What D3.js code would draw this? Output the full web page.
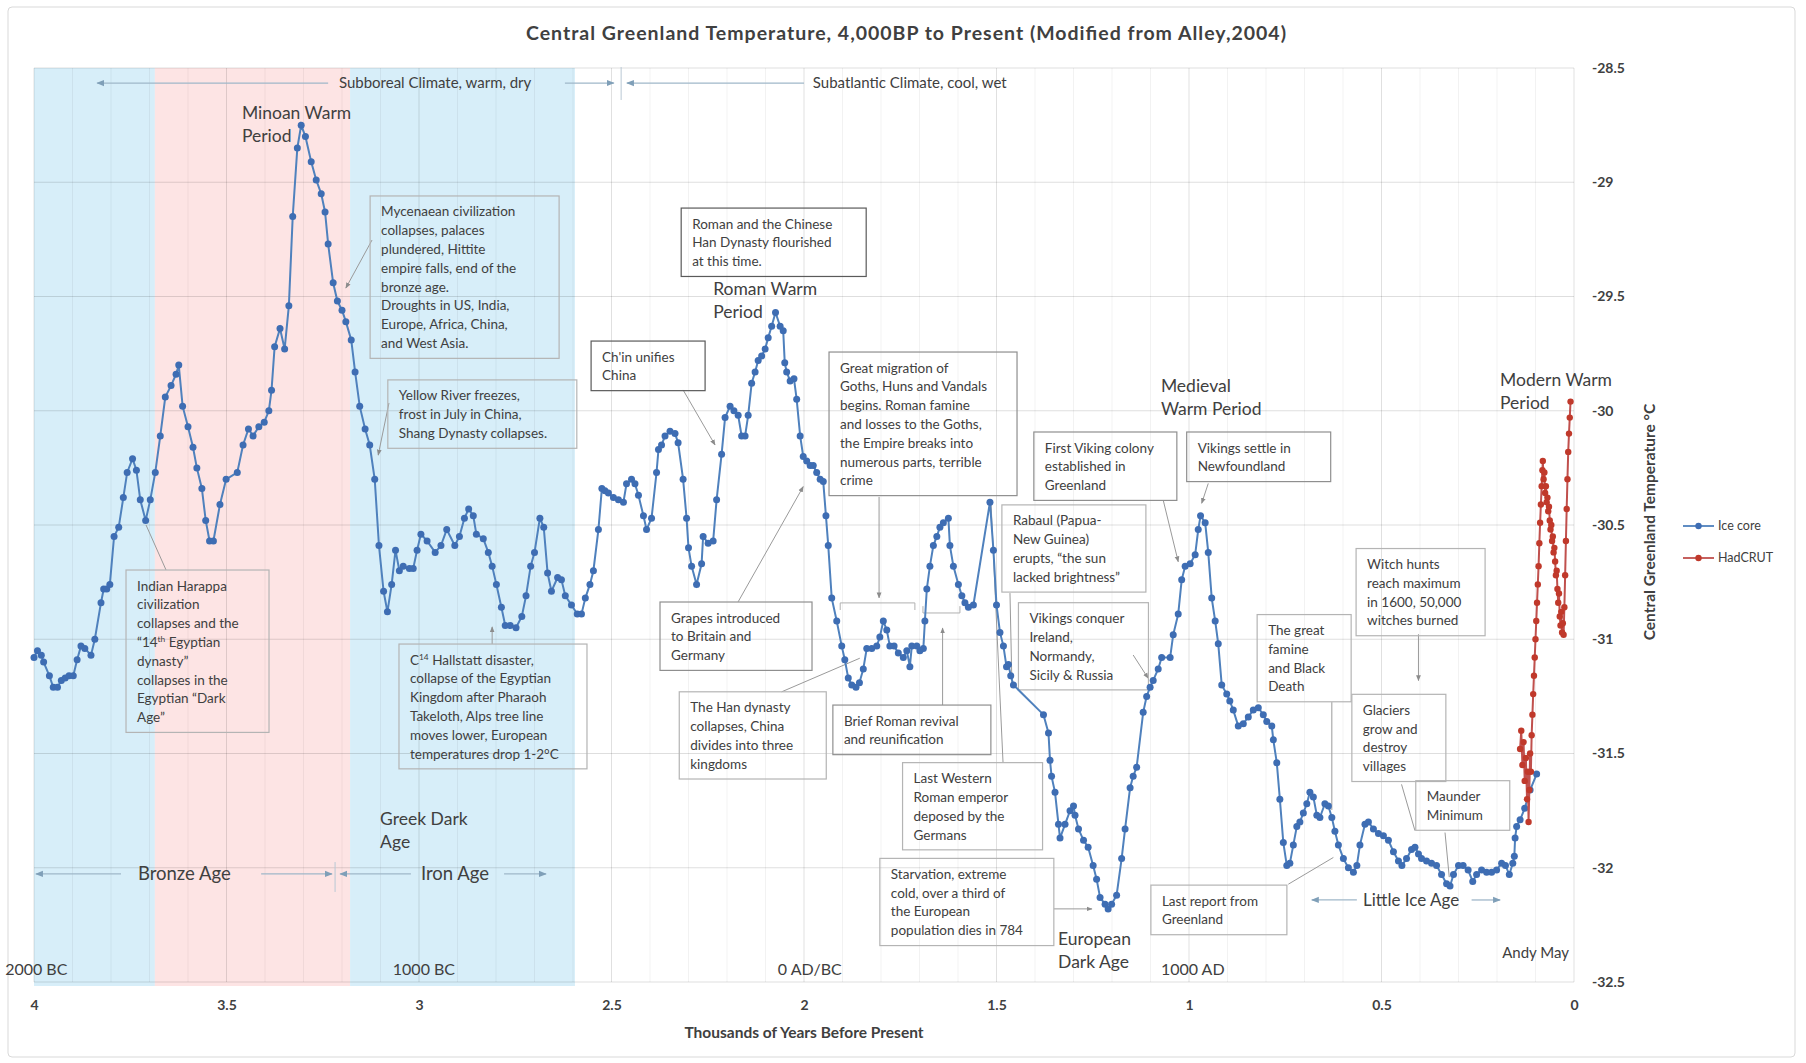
<!DOCTYPE html>
<html><head><meta charset="utf-8">
<script src="https://cdn.jsdelivr.net/npm/d3@7"></script>
<style>
body{margin:0;background:#fff}
svg text{font-family:Lato,"Open Sans",sans-serif}
</style>
</head><body>
<svg id="c" width="1806" height="1063"></svg>
<script>
// ---------------- DATA ----------------
// Ice core: [thousands of years BP, temperature °C]
const iceCore = [
[4.000,-31.08],[3.991,-31.05],[3.981,-31.07],[3.975,-31.10],[3.960,-31.16],[3.950,-31.21],[3.939,-31.21],[3.929,-31.18],[3.919,-31.17],[3.909,-31.16],[3.898,-31.16],[3.888,-31.09],[3.878,-31.03],[3.868,-31.04],[3.852,-31.07],[3.842,-31.00],[3.826,-30.84],[3.819,-30.78],[3.811,-30.78],[3.803,-30.76],[3.792,-30.55],[3.780,-30.51],[3.768,-30.38],[3.758,-30.27],[3.744,-30.21],[3.734,-30.26],[3.724,-30.39],[3.710,-30.48],[3.698,-30.39],[3.685,-30.27],[3.672,-30.11],[3.659,-29.94],[3.644,-29.89],[3.631,-29.84],[3.624,-29.80],[3.614,-29.98],[3.600,-30.07],[3.587,-30.16],[3.577,-30.25],[3.564,-30.34],[3.554,-30.48],[3.544,-30.57],[3.534,-30.57],[3.517,-30.41],[3.501,-30.30],[3.472,-30.27],[3.457,-30.15],[3.443,-30.08],[3.431,-30.11],[3.416,-30.07],[3.402,-30.05],[3.390,-30.00],[3.383,-29.91],[3.375,-29.72],[3.361,-29.64],[3.349,-29.73],[3.338,-29.54],[3.328,-29.15],[3.316,-28.85],[3.306,-28.75],[3.295,-28.80],[3.280,-28.91],[3.267,-28.99],[3.254,-29.05],[3.244,-29.13],[3.236,-29.27],[3.223,-29.44],[3.212,-29.52],[3.200,-29.56],[3.190,-29.61],[3.176,-29.69],[3.166,-29.83],[3.154,-29.98],[3.140,-30.08],[3.128,-30.15],[3.115,-30.30],[3.104,-30.59],[3.092,-30.79],[3.082,-30.88],[3.071,-30.76],[3.061,-30.61],[3.051,-30.70],[3.041,-30.68],[3.025,-30.69],[3.015,-30.69],[3.005,-30.61],[2.995,-30.54],[2.979,-30.57],[2.958,-30.62],[2.943,-30.59],[2.928,-30.52],[2.907,-30.59],[2.895,-30.55],[2.882,-30.47],[2.871,-30.43],[2.859,-30.46],[2.851,-30.54],[2.833,-30.56],[2.820,-30.62],[2.810,-30.68],[2.799,-30.76],[2.786,-30.86],[2.776,-30.94],[2.763,-30.94],[2.748,-30.95],[2.733,-30.90],[2.722,-30.81],[2.710,-30.68],[2.700,-30.62],[2.686,-30.47],[2.676,-30.51],[2.666,-30.71],[2.656,-30.79],[2.640,-30.73],[2.630,-30.74],[2.620,-30.81],[2.604,-30.85],[2.589,-30.89],[2.578,-30.89],[2.568,-30.82],[2.556,-30.76],
[2.547,-30.70],[2.534,-30.52],[2.525,-30.34],[2.517,-30.35],[2.508,-30.36],[2.495,-30.38],[2.482,-30.39],[2.469,-30.40],[2.461,-30.32],[2.448,-30.30],[2.439,-30.32],[2.430,-30.37],[2.417,-30.46],[2.409,-30.52],[2.396,-30.47],[2.383,-30.27],[2.378,-30.17],[2.370,-30.15],[2.361,-30.11],[2.348,-30.09],[2.335,-30.10],[2.327,-30.14],[2.314,-30.30],[2.305,-30.47],[2.300,-30.60],[2.292,-30.68],[2.279,-30.76],[2.266,-30.67],[2.262,-30.55],[2.249,-30.58],[2.236,-30.57],[2.227,-30.39],[2.214,-30.19],[2.205,-30.03],[2.192,-29.98],[2.182,-30.00],[2.171,-30.02],[2.162,-30.11],[2.153,-30.11],[2.145,-30.02],[2.136,-29.88],[2.127,-29.83],[2.119,-29.78],[2.110,-29.76],[2.101,-29.73],[2.093,-29.68],[2.084,-29.63],[2.074,-29.57],[2.062,-29.63],[2.054,-29.65],[2.050,-29.79],[2.045,-29.83],[2.036,-29.87],[2.026,-29.86],[2.019,-29.95],[2.010,-30.11],[2.002,-30.20],[1.993,-30.22],[1.984,-30.24],[1.976,-30.24],[1.967,-30.27],[1.958,-30.30],[1.950,-30.31],[1.943,-30.46],[1.937,-30.59],[1.928,-30.82],[1.915,-30.92],[1.902,-31.03],[1.894,-31.09],[1.885,-31.17],[1.876,-31.20],[1.865,-31.21],[1.856,-31.19],[1.846,-31.13],[1.837,-31.04],[1.824,-31.04],[1.811,-31.03],[1.803,-30.99],[1.794,-30.92],[1.785,-30.96],[1.777,-31.03],[1.766,-31.03],[1.755,-31.06],[1.742,-31.08],[1.733,-31.05],[1.725,-31.12],[1.720,-31.03],[1.707,-31.03],[1.699,-31.05],[1.690,-31.04],[1.686,-30.92],[1.681,-30.78],[1.673,-30.68],[1.664,-30.59],[1.655,-30.55],[1.647,-30.51],[1.638,-30.49],[1.625,-30.47],[1.621,-30.59],[1.612,-30.68],[1.599,-30.76],[1.590,-30.81],[1.582,-30.84],[1.573,-30.86],[1.560,-30.85],[1.517,-30.40],[1.508,-30.61],[1.500,-30.85],[1.491,-30.97],[1.482,-31.03],[1.474,-31.12],
[1.469,-31.11],[1.463,-31.16],[1.456,-31.20],[1.378,-31.33],[1.365,-31.41],[1.361,-31.53],[1.357,-31.60],[1.348,-31.67],[1.339,-31.81],[1.335,-31.87],[1.322,-31.81],[1.309,-31.75],[1.300,-31.73],[1.296,-31.77],[1.287,-31.83],[1.274,-31.88],[1.262,-31.91],[1.249,-31.99],[1.240,-32.05],[1.231,-32.13],[1.218,-32.16],[1.210,-32.18],[1.201,-32.16],[1.188,-32.12],[1.175,-31.96],[1.166,-31.83],[1.153,-31.65],[1.145,-31.60],[1.136,-31.56],[1.119,-31.32],[1.110,-31.25],[1.101,-31.21],[1.093,-31.18],[1.080,-31.13],[1.071,-31.08],[1.049,-31.08],[1.041,-30.98],[1.028,-30.89],[1.019,-30.74],[1.010,-30.68],[0.997,-30.67],[0.984,-30.63],[0.976,-30.52],[0.970,-30.46],[0.958,-30.49],[0.950,-30.62],[0.941,-30.82],[0.932,-30.92],[0.924,-31.02],[0.915,-31.20],[0.902,-31.24],[0.894,-31.27],[0.885,-31.31],[0.872,-31.38],[0.859,-31.37],[0.846,-31.34],[0.833,-31.31],[0.820,-31.30],[0.807,-31.33],[0.798,-31.36],[0.785,-31.38],[0.781,-31.44],[0.772,-31.54],[0.764,-31.70],[0.755,-31.89],[0.746,-31.99],
[0.738,-31.98],[0.729,-31.90],[0.720,-31.82],[0.712,-31.80],[0.703,-31.76],[0.694,-31.72],[0.686,-31.67],[0.677,-31.69],[0.668,-31.77],[0.660,-31.78],[0.647,-31.72],[0.638,-31.73],[0.629,-31.78],[0.621,-31.84],[0.612,-31.90],[0.599,-31.96],[0.586,-32.00],[0.573,-32.02],[0.564,-31.99],[0.556,-31.90],[0.543,-31.81],[0.534,-31.80],[0.521,-31.83],[0.508,-31.85],[0.495,-31.86],[0.482,-31.88],[0.469,-31.93],[0.456,-31.97],[0.447,-31.99],[0.435,-31.96],[0.422,-31.92],[0.413,-31.91],[0.404,-31.94],[0.396,-31.96],[0.383,-31.97],[0.370,-31.98],[0.357,-31.99],[0.344,-32.03],[0.331,-32.07],[0.322,-32.08],[0.313,-32.03],[0.300,-31.99],[0.288,-31.99],[0.275,-32.01],[0.263,-32.06],[0.253,-32.03],[0.240,-32.01],[0.227,-32.02],[0.214,-32.02],[0.201,-32.01],[0.188,-31.98],[0.178,-31.99],[0.168,-32.03],[0.159,-31.98],[0.155,-31.95],[0.153,-31.87],[0.149,-31.82],[0.140,-31.79],[0.128,-31.74],[0.114,-31.66],[0.097,-31.59]
];
// HadCRUT (scaled): [thousands of years BP, temperature °C]
const hadcrut = [
[0.140,-31.48],[0.137,-31.40],[0.134,-31.55],[0.131,-31.45],[0.128,-31.62],[0.125,-31.52],[0.122,-31.70],[0.120,-31.58],[0.118,-31.80],[0.116,-31.66],[0.114,-31.50],[0.112,-31.58],[0.110,-31.42],[0.108,-31.33],[0.106,-31.24],[0.104,-31.16],[0.102,-31.08],[0.100,-31.00],[0.098,-30.92],[0.096,-30.84],[0.094,-30.76],[0.092,-30.68],[0.090,-30.58],[0.088,-30.49],[0.086,-30.41],[0.084,-30.33],[0.082,-30.26],[0.081,-30.22],[0.079,-30.30],[0.077,-30.27],[0.075,-30.36],[0.073,-30.33],[0.071,-30.40],[0.069,-30.38],[0.067,-30.44],[0.065,-30.42],[0.063,-30.48],[0.061,-30.52],[0.059,-30.50],[0.057,-30.57],[0.055,-30.55],[0.053,-30.62],[0.051,-30.60],[0.049,-30.66],[0.047,-30.72],[0.045,-30.70],[0.043,-30.78],[0.041,-30.84],[0.039,-30.80],[0.037,-30.90],[0.035,-30.94],[0.033,-30.88],[0.031,-30.97],[0.029,-30.93],[0.027,-30.98],[0.025,-30.86],[0.023,-30.72],[0.021,-30.57],[0.019,-30.43],[0.017,-30.30],[0.015,-30.18],[0.013,-30.10],[0.011,-30.03],[0.009,-29.96]
];
const seriesNames = ["Ice core","HadCRUT"];
const xTickValues = [4,3.5,3,2.5,2,1.5,1,0.5,0];
const yTickValues = [-28.5,-29,-29.5,-30,-30.5,-31,-31.5,-32,-32.5];
const bands = [{from:4.0,to:3.686,kind:"cool"},{from:3.686,to:3.179,kind:"warm"},{from:3.179,to:2.595,kind:"cool"}];
const titleText = "Central Greenland Temperature, 4,000BP to Present (Modified from Alley,2004)";
const xTitle = "Thousands of Years Before Present";
const yTitle = "Central Greenland Temperature \u00B0C";

// ---------------- ANNOTATION LAYOUT (data coordinates) ----------------
const boxes = [
 {t:["Mycenaean civilization","collapses, palaces","plundered, Hittite","empire falls, end of the","bronze age.","Droughts in US, India,","Europe, Africa, China,","and West Asia."],x:3.127,y:-29.060,w:189,s:"l"},
 {t:["Roman and the Chinese","Han Dynasty flourished","at this time."],x:2.319,y:-29.113,w:185,s:"d"},
 {t:["Ch'in unifies","China"],x:2.553,y:-29.695,w:114,s:"d"},
 {t:["Great migration of","Goths, Huns and Vandals","begins. Roman famine","and losses to the Goths,","the Empire breaks into","numerous parts, terrible","crime"],x:1.935,y:-29.743,w:188,s:"m"},
 {t:["Grapes introduced","to Britain and","Germany"],x:2.374,y:-30.837,w:152,s:"m"},
 {t:["The Han dynasty","collapses, China","divides into three","kingdoms"],x:2.324,y:-31.230,w:147,s:"l"},
 {t:["Brief Roman revival","and reunification"],x:1.925,y:-31.288,w:158,s:"m"},
 {t:["Rabaul (Papua-","New Guinea)","erupts, \u201cthe sun","lacked brightness\u201d"],x:1.486,y:-30.412,w:144,s:"l"},
 {t:["Last Western","Roman emperor","deposed by the","Germans"],x:1.744,y:-31.540,w:140,s:"l"},
 {t:["Starvation, extreme","cold, over a third of","the European","population dies in 784"],x:1.803,y:-31.959,w:174,s:"l"},
 {t:["Vikings conquer","Ireland,","Normandy,","Sicily & Russia"],x:1.443,y:-30.840,w:130,s:"l"},
 {t:["First Viking colony","established in","Greenland"],x:1.403,y:-30.093,w:143,s:"m"},
 {t:["Vikings settle in","Newfoundland"],x:1.006,y:-30.093,w:144,s:"m"},
 {t:["Witch hunts","reach maximum","in 1600, 50,000","witches burned"],x:0.566,y:-30.603,w:129,s:"l"},
 {t:["The great","famine","and Black","Death"],x:0.823,y:-30.892,w:94,s:"l"},
 {t:["Glaciers","grow and","destroy","villages"],x:0.577,y:-31.241,w:94,s:"l"},
 {t:["Maunder","Minimum"],x:0.411,y:-31.619,w:94,s:"l"},
 {t:["Last report from","Greenland"],x:1.099,y:-32.076,w:136,s:"l"},
 {t:["Indian Harappa","civilization","collapses and the","\u201c14^{th} Egyptian","dynasty\u201d","collapses in the","Egyptian \u201cDark","Age\u201d"],x:3.761,y:-30.697,w:143,s:"l"},
 {t:["Yellow River freezes,","frost in July in China,","Shang Dynasty collapses."],x:3.081,y:-29.865,w:189,s:"l"},
 {t:["C^{14} Hallstatt disaster,","collapse of the Egyptian","Kingdom after Pharaoh","Takeloth, Alps tree line","moves lower, European","temperatures drop 1-2\u00B0C"],x:3.052,y:-31.021,w:188,s:"l"}
];
const connectors = [
 [3.122,-29.253,3.190,-29.463,1],[2.314,-29.909,2.231,-30.150,1],[1.805,-30.377,1.805,-30.819,1],
 [2.171,-30.836,2.002,-30.332,1],[2.058,-31.230,1.855,-31.083,0],[1.640,-31.288,1.640,-30.951,1],
 [1.483,-31.540,1.514,-30.412,0],[1.465,-30.798,1.460,-31.192,0],[1.351,-32.180,1.252,-32.180,1],
 [1.145,-31.069,1.106,-31.171,1],[1.067,-30.391,1.028,-30.661,1],[0.950,-30.318,0.967,-30.405,1],
 [0.404,-30.978,0.404,-31.181,1],[0.629,-31.275,0.629,-31.747,0],[0.448,-31.635,0.413,-31.838,0],
 [0.335,-31.846,0.324,-32.041,0],[0.742,-32.072,0.625,-31.955,0],[3.657,-30.697,3.709,-30.500,0],
 [3.078,-29.966,3.106,-30.194,1],[2.810,-31.021,2.810,-30.946,1]
];
const brackets = [[1.906,1.712,-30.841,-30.872],[1.691,1.595,-30.885,-30.855]];
const bigLabels = [
 {t:["Minoan Warm","Period"],x:3.460,y:-28.697},
 {t:["Roman Warm","Period"],x:2.236,y:-29.467},
 {t:["Medieval","Warm Period"],x:1.073,y:-29.892},
 {t:["Modern Warm","Period"],x:0.192,y:-29.865},
 {t:["European","Dark Age"],x:1.340,y:-32.312},
 {t:["Greek Dark","Age"],x:3.101,y:-31.787}
];
const eraLabels = [{t:"2000 BC",x:4.075},{t:"1000 BC",x:3.068},{t:"0 AD/BC",x:2.068},{t:"1000 AD",x:1.073}];
const periodArrows = [
 {y:-28.566, segs:[[3.836,3.236,"s"],[2.621,2.494,"e"],[2.460,2.000,"s"]], texts:[["Subboreal Climate, warm, dry",3.208],["Subatlantic Climate, cool, wet",1.977]], tick:[2.475,-28.496,-28.640], size:15},
 {y:-32.027, segs:[[3.995,3.774,"s"],[3.410,3.226,"e"],[3.205,3.021,"s"],[2.779,2.670,"e"]], texts:[["Bronze Age",3.730],["Iron Age",2.995]], tick:[3.218,-31.975,-32.106], size:18.5},
 {y:-32.141, segs:[[0.681,0.564,"s"],[0.266,0.192,"e"]], texts:[["Little Ice Age",0.548]], size:17}
];

// ---------------- DRAW ----------------
const svg = d3.select("#c");
const x = d3.scaleLinear().domain([4,0]).range([34,1574]);
const y = d3.scaleLinear().domain([-28.5,-32.5]).range([68,982]);
const TXT = "#404040";

svg.append("rect").attr("width",1806).attr("height",1063).attr("fill","#fff");
svg.append("rect").attr("x",8).attr("y",7).attr("width",1787).attr("height",1050).attr("rx",4)
  .attr("fill","#fff").attr("stroke","#d9d9d9");

const defs = svg.append("defs");
function mk(id,col){
  defs.append("marker").attr("id",id).attr("viewBox","0 0 10 10").attr("refX",9).attr("refY",5)
    .attr("markerWidth",6).attr("markerHeight",6).attr("orient","auto-start-reverse")
    .append("path").attr("d","M0,1L10,5L0,9z").attr("fill",col);
}
mk("ag","#8c8c8c"); mk("ab","#7f9fb8");

// bands
const bandColor = {cool:"#d7eef9",warm:"#fde4e4"};
svg.append("g").selectAll("rect").data(bands).join("rect")
  .attr("x",d=>x(d.from)).attr("width",d=>x(d.to)-x(d.from))
  .attr("y",y(-28.5)).attr("height",y(-32.5)-y(-28.5)+4)
  .attr("fill",d=>bandColor[d.kind]);

// grid
const minor = d3.range(0,41).map(i=>i/10);
svg.append("g").selectAll("line").data(minor).join("line")
  .attr("x1",d=>x(d)).attr("x2",d=>x(d)).attr("y1",y(-28.5)).attr("y2",y(-32.5))
  .attr("stroke",(d,i)=> i%5===0 ? "rgba(0,0,0,0.12)" : "rgba(0,0,0,0.05)").attr("stroke-width",1);
svg.append("g").selectAll("line").data(yTickValues).join("line")
  .attr("x1",x(4)).attr("x2",x(0)).attr("y1",d=>y(d)).attr("y2",d=>y(d))
  .attr("stroke","rgba(0,0,0,0.13)");

// axes
const xAxis = d3.axisBottom(x).tickValues(xTickValues).tickSize(0).tickPadding(18).tickFormat(d=>String(d));
svg.append("g").attr("transform",`translate(0,${y(-32.5)})`).call(xAxis)
  .call(g=>g.select(".domain").remove())
  .attr("font-family","Lato").attr("font-size",14).attr("font-weight","bold")
  .selectAll("text").attr("fill",TXT);
const yAxis = d3.axisRight(y).tickValues(yTickValues).tickSize(0).tickPadding(18).tickFormat(d=>String(d));
svg.append("g").attr("transform",`translate(${x(0)},0)`).call(yAxis)
  .call(g=>g.select(".domain").remove())
  .attr("font-family","Lato").attr("font-size",14).attr("font-weight","bold")
  .selectAll("text").attr("fill",TXT);

// rich text helper
function rich(sel,str){
  str.split(/(\^\{[^}]*\})/).forEach(p=>{
    if(!p) return;
    const m = p.match(/^\^\{([^}]*)\}$/);
    if(m) sel.append("tspan").attr("baseline-shift","super").attr("font-size","0.62em").text(m[1]);
    else sel.append("tspan").text(p);
  });
}

// connectors
const ann = svg.append("g");
connectors.forEach(c=>{
  const l = ann.append("line").attr("x1",x(c[0])).attr("y1",y(c[1])).attr("x2",x(c[2])).attr("y2",y(c[3]))
    .attr("stroke","#9a9a9a").attr("stroke-width",1);
  if(c[4]) l.attr("marker-end","url(#ag)");
});
brackets.forEach(b=>{
  ann.append("path").attr("d",`M${x(b[0])},${y(b[3])}V${y(b[2])}H${x(b[1])}V${y(b[3])}`)
    .attr("fill","none").attr("stroke","#b0b0b0");
});

// boxes
const LH = 18.8, bStroke = {l:"#b4b4b4",m:"#8f8f8f",d:"#5a5a5a"};
boxes.forEach(b=>{
  const bx = x(b.x), by = y(b.y), h = b.t.length*LH + 12;
  ann.append("rect").attr("x",bx).attr("y",by).attr("width",b.w).attr("height",h)
    .attr("fill","none").attr("stroke",bStroke[b.s]).attr("stroke-width",1.2);
  b.t.forEach((ln,i)=>{
    const t = ann.append("text").attr("x",bx+11).attr("y",by+20.5+i*LH)
      .attr("font-size",13.5).attr("fill",TXT);
    rich(t,ln);
  });
});

// period arrows
periodArrows.forEach(p=>{
  const yy = y(p.y);
  p.segs.forEach(s=>{
    const l = ann.append("line").attr("x1",x(s[0])).attr("x2",x(s[1])).attr("y1",yy).attr("y2",yy)
      .attr("stroke","#9fb7c9").attr("stroke-width",1.3);
    if(s[2]==="s") l.attr("marker-start","url(#ab)"); else l.attr("marker-end","url(#ab)");
  });
  p.texts.forEach(t=>{
    ann.append("text").attr("x",x(t[1])).attr("y",yy).attr("dy","0.35em")
      .attr("font-size",p.size).attr("fill",TXT).text(t[0]);
  });
  if(p.tick) ann.append("line").attr("x1",x(p.tick[0])).attr("x2",x(p.tick[0]))
      .attr("y1",y(p.tick[1])).attr("y2",y(p.tick[2])).attr("stroke","#b9c8d4");
});

// series
const line = d3.line().x(d=>x(d[0])).y(d=>y(d[1]));
const seriesStyle = [{stroke:"#4f81bd",fill:"#3e6db3",r:3.5},{stroke:"#c0504d",fill:"#c0392b",r:3.2}];
[iceCore,hadcrut].forEach((s,i)=>{
  const st = seriesStyle[i];
  svg.append("path").datum(s).attr("d",line).attr("fill","none").attr("stroke",st.stroke).attr("stroke-width",2);
  svg.append("g").selectAll("circle").data(s).join("circle")
    .attr("cx",d=>x(d[0])).attr("cy",d=>y(d[1])).attr("r",st.r).attr("fill",st.fill);
});

// big labels
bigLabels.forEach(b=>{
  b.t.forEach((ln,i)=>{
    svg.append("text").attr("x",x(b.x)).attr("y",y(b.y)+i*22.5).attr("dy","0.35em")
      .attr("font-size",17.5).attr("fill",TXT).text(ln);
  });
});
eraLabels.forEach(e=>{
  svg.append("text").attr("x",x(e.x)).attr("y",y(-32.443)).attr("dy","0.35em")
    .attr("font-size",16).attr("fill",TXT).text(e.t);
});
svg.append("text").attr("x",x(0.013)).attr("y",y(-32.373)).attr("dy","0.35em").attr("text-anchor","end")
  .attr("font-size",15).attr("fill",TXT).text("Andy May");

// titles
svg.append("text").attr("x",906).attr("y",33).attr("dy","0.35em").attr("text-anchor","middle")
  .attr("font-size",19.5).attr("font-weight","bold").attr("fill",TXT)
  .attr("textLength",760).attr("lengthAdjust","spacing").text(titleText);
svg.append("text").attr("x",(x(4)+x(0))/2).attr("y",1033).attr("dy","0.35em").attr("text-anchor","middle")
  .attr("font-size",15.5).attr("font-weight","bold").attr("fill",TXT).text(xTitle);
svg.append("text").attr("transform",`translate(1650,${(y(-28.5)+y(-32.5))/2 - 3}) rotate(-90)`)
  .attr("dy","0.35em").attr("text-anchor","middle")
  .attr("font-size",15.5).attr("font-weight","bold").attr("fill",TXT).text(yTitle);

// legend
const lg = svg.append("g");
seriesNames.forEach((n,i)=>{
  const ly = 526 + i*32, st = seriesStyle[i];
  lg.append("line").attr("x1",1683).attr("x2",1714).attr("y1",ly).attr("y2",ly).attr("stroke",st.stroke).attr("stroke-width",1.8);
  lg.append("circle").attr("cx",1698.5).attr("cy",ly).attr("r",3.2).attr("fill",st.fill);
  lg.append("text").attr("x",1718).attr("y",ly).attr("dy","0.35em").attr("font-size",12.5).attr("fill",TXT).text(n);
});
</script>
</body></html>
